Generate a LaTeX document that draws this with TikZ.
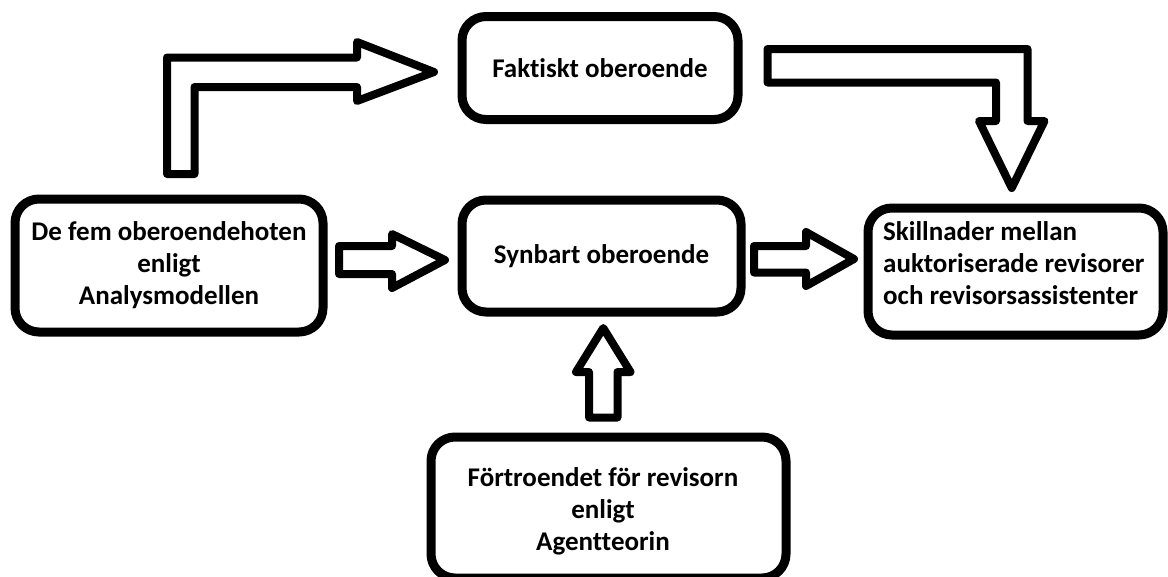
\documentclass[tikz,border=0pt]{standalone}
\usepackage{fontspec}
\setmainfont[Ligatures={NoCommon}]{Carlito}
\begin{document}
\begin{tikzpicture}[x=1pt,y=-1pt,
  box/.style={draw=black, line width=9pt, rounded corners=24pt, fill=white,
    inner sep=0pt, font=\bfseries\fontsize{27}{32}\selectfont, align=center},
  label text/.style={inner sep=0pt, font=\bfseries\fontsize{27}{32}\selectfont},
  blockarrow/.style={draw=black, line width=8pt, line join=round, fill=white}]
\useasboundingbox (0,0) rectangle (1168,576);

% boxes
\node[box, minimum width=308pt, minimum height=133pt] (hot) at (169,265.5)
  {De fem oberoendehoten\\enligt\\Analysmodellen};
\node[box, minimum width=276pt, minimum height=103pt] (fakt) at (600,68)
  {Faktiskt oberoende};
\node[box, minimum width=279pt, minimum height=112pt] (synb) at (601.5,256)
  {Synbart oberoende};
\node[box, minimum width=295pt, minimum height=127pt] (skill) at (1015.5,271.5) {};
\node[label text, anchor=west, align=left] (skilltxt) at (883,263.5)
  {Skillnader mellan\\auktoriserade revisorer\\och revisorsassistenter};
\node[box, minimum width=355pt, minimum height=141pt] (fort) at (608.5,507.5) {};
\node[label text, align=center] (forttxt) at (603,511.5)
  {Förtroendet för revisorn\\enligt\\Agentteorin};

% block arrows
\draw[blockarrow] (167,174) -- (167,57.5) -- (357,57.5) -- (357,42) -- (434,72)
  -- (357,101) -- (357,87) -- (194.5,87) -- (194.5,174) -- cycle;
\draw[blockarrow] (767.5,49) -- (1027.5,49) -- (1027.5,121) -- (1044.5,121)
  -- (1011.75,188) -- (979,121) -- (996,121) -- (996,82.5) -- (767.5,82.5) -- cycle;
\draw[blockarrow] (339,246) -- (392,246) -- (392,234) -- (445,260) -- (392,288)
  -- (392,274) -- (339,274) -- cycle;
\draw[blockarrow] (754,246) -- (806,246) -- (806,232) -- (854,259) -- (806,286)
  -- (806,272.5) -- (754,272.5) -- cycle;
\draw[blockarrow] (589,417.5) -- (589,372) -- (576,372) -- (603.25,328)
  -- (630.5,372) -- (617.5,372) -- (617.5,417.5) -- cycle;
\end{tikzpicture}
\end{document}
